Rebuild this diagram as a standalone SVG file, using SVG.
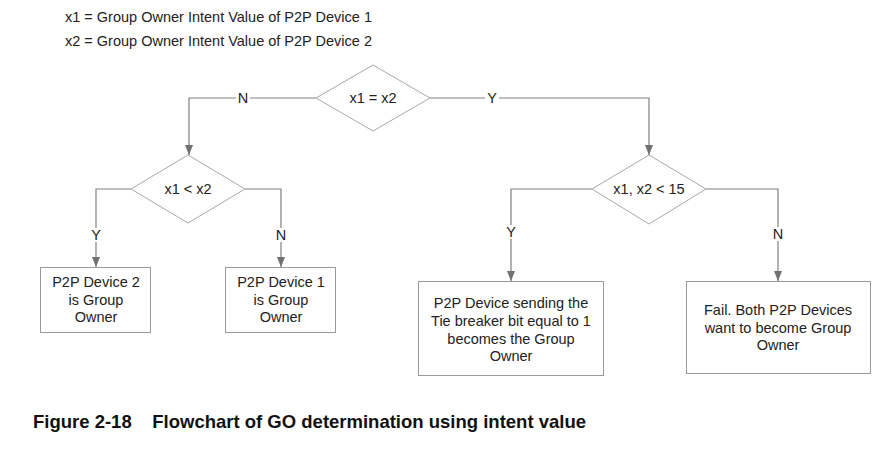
<svg xmlns="http://www.w3.org/2000/svg" width="894" height="467" viewBox="0 0 894 467">
<defs>
<marker id="arr" viewBox="0 0 10 10" refX="10" refY="5" markerWidth="10" markerHeight="10" markerUnits="userSpaceOnUse" orient="auto">
<path d="M0,1 L10,5 L0,9 z" fill="#707070"/>
</marker>
<style>
text{font-family:"Liberation Sans",Arial,sans-serif;fill:#222;font-size:14.5px}
.c{text-anchor:middle}
.dia{fill:#fff;stroke:#a8a8a8;stroke-width:1}
.box{fill:#fff;stroke:#9a9a9a;stroke-width:1}
.ln{fill:none;stroke:#808080;stroke-width:1.2}
.lbl{text-anchor:middle}
.cap{font-weight:bold;font-size:18.5px;fill:#111}
</style>
</defs>
<rect width="894" height="467" fill="#fff"/>
<text x="65" y="22">x1 = Group Owner Intent Value of P2P Device 1</text>
<text x="65" y="46">x2 = Group Owner Intent Value of P2P Device 2</text>
<g id="connectors">
<path class="ln" d="M316,98 H189 V155" marker-end="url(#arr)"/>
<path class="ln" d="M430,98 H649 V155" marker-end="url(#arr)"/>
<path class="ln" d="M131,189 H96 V267" marker-end="url(#arr)"/>
<path class="ln" d="M245,189 H281 V267" marker-end="url(#arr)"/>
<path class="ln" d="M592,189 H511 V281" marker-end="url(#arr)"/>
<path class="ln" d="M706,189 H778 V281" marker-end="url(#arr)"/>
<rect x="236" y="91" width="14" height="14" fill="#fff"/>
<text class="lbl" x="243" y="103">N</text>
<rect x="485" y="91" width="14" height="14" fill="#fff"/>
<text class="lbl" x="492" y="103">Y</text>
<rect x="89" y="228" width="14" height="14" fill="#fff"/>
<text class="lbl" x="96" y="240">Y</text>
<rect x="274" y="228" width="14" height="14" fill="#fff"/>
<text class="lbl" x="281" y="240">N</text>
<rect x="504" y="225" width="14" height="14" fill="#fff"/>
<text class="lbl" x="511" y="237">Y</text>
<rect x="771" y="227" width="14" height="14" fill="#fff"/>
<text class="lbl" x="778" y="239">N</text>
</g>
<g id="d1">
<polygon class="dia" points="373,65 430,98 373,131 316,98"/>
<text class="c" x="373" y="103">x1 = x2</text>
</g>
<g id="d2">
<polygon class="dia" points="188,155 245,189 188,223 131,189"/>
<text class="c" x="188" y="194">x1 &lt; x2</text>
</g>
<g id="d3">
<polygon class="dia" points="649,155 706,189 649,224 592,189"/>
<text class="c" x="649" y="194">x1, x2 &lt; 15</text>
</g>
<g id="b1">
<rect class="box" x="40.5" y="267.5" width="110" height="65"/>
<text class="c"><tspan x="96" y="287">P2P Device 2</tspan><tspan x="96" y="305">is Group</tspan><tspan x="96" y="322">Owner</tspan></text>
</g>
<g id="b2">
<rect class="box" x="225.5" y="267.5" width="110" height="65"/>
<text class="c"><tspan x="281" y="287">P2P Device 1</tspan><tspan x="281" y="305">is Group</tspan><tspan x="281" y="322">Owner</tspan></text>
</g>
<g id="b3">
<rect class="box" x="418.5" y="281.5" width="185" height="94"/>
<text class="c"><tspan x="511" y="308">P2P Device sending the</tspan><tspan x="511" y="326">Tie breaker bit equal to 1</tspan><tspan x="511" y="344">becomes the Group</tspan><tspan x="511" y="361">Owner</tspan></text>
</g>
<g id="b4">
<rect class="box" x="686.5" y="281.5" width="184" height="92"/>
<text class="c"><tspan x="778" y="315">Fail. Both P2P Devices</tspan><tspan x="778" y="333">want to become Group</tspan><tspan x="778" y="350">Owner</tspan></text>
</g>
<text class="cap" x="33" y="428" xml:space="preserve">Figure 2-18    Flowchart of GO determination using intent value</text>
</svg>
